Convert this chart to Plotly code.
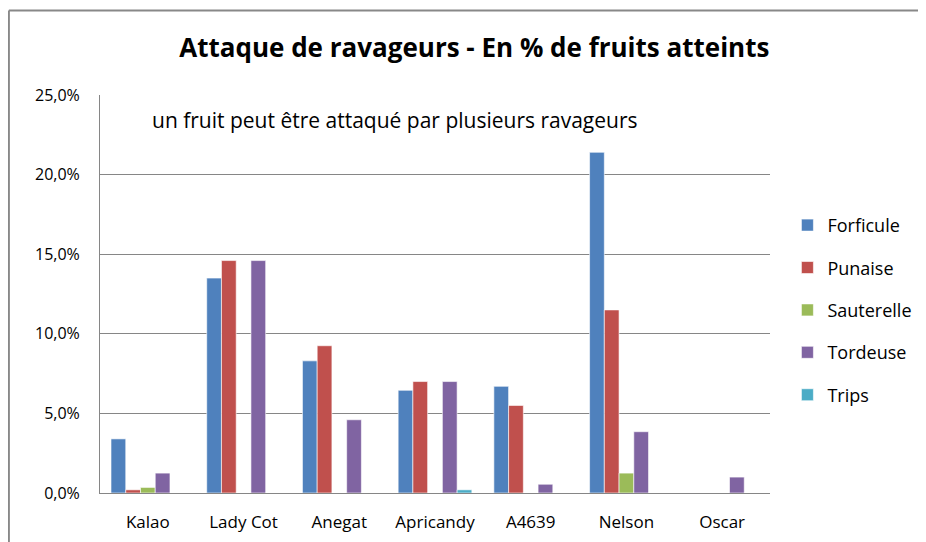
import plotly.graph_objects as go

categories = ["Kalao", "Lady Cot", "Anegat", "Apricandy", "A4639", "Nelson", "Oscar"]
forficule = [3.4, 13.5, 8.3, 6.45, 6.7, 21.4, 0.0]
punaise = [0.2, 14.6, 9.25, 7.0, 5.5, 11.5, 0.0]
sauterelle = [0.35, 0.0, 0.0, 0.0, 0.0, 1.25, 0.0]
tordeuse = [1.25, 14.6, 4.6, 7.0, 0.55, 3.85, 1.0]
trips = [0.0, 0.0, 0.0, 0.2, 0.0, 0.0, 0.0]
series_names = ["Forficule", "Punaise", "Sauterelle", "Tordeuse", "Trips"]
tick_vals = [0, 5, 10, 15, 20, 25]
tick_text = ["0,0%", "5,0%", "10,0%", "15,0%", "20,0%", "25,0%"]

colors = ["#4F81BD", "#C0504D", "#9BBB59", "#8064A2", "#4BACC6"]
font = "'Open Sans', Lato, sans-serif"

fig = go.Figure()
for name, vals, col in zip(series_names, [forficule, punaise, sauterelle, tordeuse, trips], colors):
    fig.add_trace(go.Bar(x=categories, y=vals, name=name, legendgroup=name,
                         marker=dict(color=col, line=dict(color="white", width=0.6))))

fig.update_layout(
    width=918, height=534,
    margin=dict(l=92, r=156, t=87, b=49, autoexpand=False),
    paper_bgcolor="white", plot_bgcolor="white",
    barmode="group", bargap=0.23, bargroupgap=0,
    font=dict(family=font, size=16, color="black"),
    title=dict(text="<b>Attaque de ravageurs - En % de fruits atteints</b>",
               x=0.508, xanchor="center", y=0.925, yanchor="middle",
               font=dict(family=font, size=26, color="black")),
    showlegend=True,
    legend=dict(x=1.026, y=0.46, xanchor="left", yanchor="middle",
                font=dict(family=font, size=18), tracegroupgap=16,
                traceorder="grouped"),
    xaxis=dict(showline=True, linecolor="#868686", linewidth=1, ticks="",
               tickfont=dict(size=17), showgrid=False, ticklabelstandoff=14),
    yaxis=dict(range=[0, 25], tickvals=tick_vals, ticktext=tick_text,
               showgrid=True, gridcolor="#868686", gridwidth=1,
               showline=True, linecolor="#868686", linewidth=1,
               ticks="", tickfont=dict(size=16), zeroline=False,
               ticklabelstandoff=16),
    annotations=[dict(text="un fruit peut être attaqué par plusieurs ravageurs",
                      xref="paper", yref="paper", x=0.0746, y=0.937,
                      xanchor="left", yanchor="middle", showarrow=False,
                      font=dict(family=font, size=21))],
    shapes=[
        dict(type="line", xref="paper", yref="paper", x0=-0.136, x1=1.3, y0=1.212, y1=1.212,
             line=dict(color="#888888", width=2)),
        dict(type="line", xref="paper", yref="paper", x0=-0.136, x1=-0.136, y0=1.212, y1=-0.2,
             line=dict(color="#888888", width=2)),
    ],
)
fig.write_html("out.html")
